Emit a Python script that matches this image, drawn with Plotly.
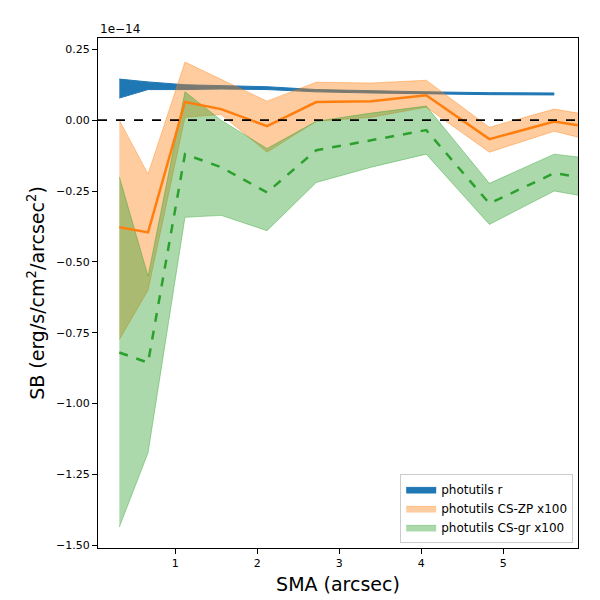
import plotly.graph_objects as go

x = [0.32, 0.67, 1.12, 1.56, 2.12, 2.72, 3.39, 4.06, 4.83, 5.62, 5.91]
xb = x[:10]
blue_hi = [0.145, 0.135, 0.125, 0.123, 0.118, 0.108, 0.103, 0.10, 0.097, 0.096]
blue_lo = [0.078, 0.108, 0.108, 0.110, 0.108, 0.100, 0.096, 0.093, 0.090, 0.089]
orange = [-0.378, -0.396, 0.064, 0.039, -0.021, 0.064, 0.067, 0.088, -0.067, -0.005, -0.018]
orange_hi = [0.0, -0.19, 0.205, 0.145, 0.067, 0.134, 0.131, 0.141, -0.025, 0.039, 0.025]
orange_lo = [-0.775, -0.60, 0.01, 0.02, -0.113, -0.004, 0.01, 0.046, -0.113, -0.039, -0.06]
green = [-0.82, -0.856, -0.12, -0.166, -0.255, -0.106, -0.071, -0.035, -0.294, -0.187, -0.2]
green_hi = [-0.2, -0.55, 0.10, 0.0, -0.10, -0.004, 0.025, 0.05, -0.223, -0.12, -0.13]
green_lo = [-1.436, -1.174, -0.343, -0.336, -0.39, -0.22, -0.166, -0.12, -0.368, -0.25, -0.265]

fig = go.Figure()
def band(xs, hi, lo, fill, line, name):
    fig.add_trace(go.Scatter(x=xs, y=hi, mode='lines', line=dict(color=line, width=1), showlegend=False, hoverinfo='skip'))
    fig.add_trace(go.Scatter(x=xs, y=lo, mode='lines', line=dict(color=line, width=1), fill='tonexty', fillcolor=fill, name=name))

band(xb, blue_hi, blue_lo, '#1f77b4', '#1f77b4', 'photutils r')
band(x, orange_hi, orange_lo, 'rgba(255,127,14,0.4)', 'rgba(255,127,14,0.4)', 'photutils CS-ZP x100')
band(x, green_hi, green_lo, 'rgba(44,160,44,0.4)', 'rgba(44,160,44,0.4)', 'photutils CS-gr x100')
fig.add_trace(go.Scatter(x=x, y=orange, mode='lines', line=dict(color='#ff7f0e', width=2.5), showlegend=False))
fig.add_trace(go.Scatter(x=x, y=green, mode='lines', line=dict(color='#2ca02c', width=2.5, dash='dash'), showlegend=False))
fig.add_hline(y=0, line=dict(color='black', width=1.8, dash='dash'))

ax = dict(showgrid=False, zeroline=False, showline=True, mirror=True, linecolor='black', automargin=False,
          ticks='outside', tickcolor='black', tickfont=dict(size=11, color='black'))
fig.update_layout(
    width=600, height=600, plot_bgcolor='white', paper_bgcolor='white',
    font=dict(family='DejaVu Sans', color='black'),
    margin=dict(l=90, r=30, t=30, b=60),
    xaxis=dict(ax, range=[0.06, 5.91], tickvals=[1, 2, 3, 4, 5],
               title=dict(text='SMA (arcsec)', font=dict(size=19), standoff=8)),
    yaxis=dict(ax, range=[-1.51, 0.29], tickvals=[0.25, 0, -0.25, -0.5, -0.75, -1.0, -1.25, -1.5],
               ticktext=['0.25', '0.00', '−0.25', '−0.50', '−0.75', '−1.00', '−1.25', '−1.50'],
               title=dict(text='SB (erg/s/cm<sup>2</sup>/arcsec<sup>2</sup>)', font=dict(size=19), standoff=6)),
    legend=dict(x=0.99, y=0.01, xanchor='right', yanchor='bottom', bordercolor='#cccccc', traceorder='normal',
                borderwidth=1, bgcolor='white', font=dict(size=12)),
    annotations=[dict(text='1e−14', xref='paper', yref='paper', x=0, y=1.0, xanchor='left',
                      yanchor='bottom', showarrow=False, font=dict(size=12))]
)
fig.write_html('out.html')
